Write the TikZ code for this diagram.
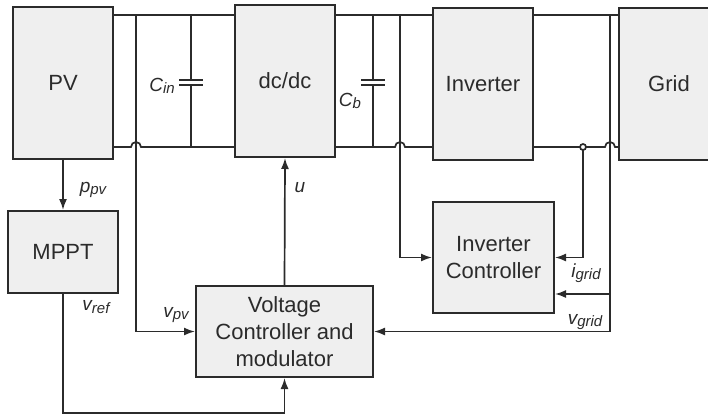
\documentclass[tikz,border=0pt]{standalone}
\usepackage{fontspec}
\setmainfont{Liberation Sans}
\usetikzlibrary{arrows.meta}

\definecolor{boxfill}{HTML}{EFEFEF}
\definecolor{ink}{HTML}{2B2B2B}
\newcommand{\sig}[2]{\textit{#1\raisebox{-0.25ex}{\fontsize{15}{15}\selectfont #2}}}

\begin{document}
\begin{tikzpicture}[x=1pt,y=-1pt,
  blk/.style={draw=ink,fill=boxfill,line width=2pt,inner sep=0pt,align=center,
    text=ink,font=\fontsize{22}{27}\selectfont},
  wire/.style={draw=ink,line width=1.7pt},
  sigarrow/.style={wire,-{Latex[length=11pt,width=8pt]}},
  lab/.style={text=ink,inner sep=0pt,font=\fontsize{19}{19}\selectfont}]

\useasboundingbox (0,0) rectangle (708,415);

% power stage
\node [blk,minimum width=100,minimum height=152] (pv)   at (63,83)  {PV};
\node [blk,minimum width=100,minimum height=152] (dcdc) at (285,81) {dc/dc};
\node [blk,minimum width=100,minimum height=152] (inv)  at (483,84) {Inverter};
\node [blk,minimum width=100,minimum height=152] (grid) at (669,84) {Grid};

% control blocks
\node [blk,minimum width=110,minimum height=82]  (mppt) at (63,252)    {MPPT};
\node [blk,minimum width=177,minimum height=91]  (vc)   at (284.5,331.5) {Voltage\\Controller and\\modulator};
\node [blk,minimum width=121,minimum height=111] (ic)   at (493.5,257.5) {Inverter\\Controller};

\coordinate (top) at (0,15);
\coordinate (bot) at (0,147);
\coordinate (vpvtap) at (136,15);
\coordinate (ictap)  at (400,15);
\coordinate (igtap)  at (583,147);
\coordinate (vgtap)  at (610,15);
\coordinate (vgbr)   at (610,294);

% dc and ac buses
\draw[wire] (pv.east |- top) -- (dcdc.west |- top);
\draw[wire] (dcdc.east |- top) -- (inv.west |- top);
\draw[wire] (inv.east |- top) -- (grid.west |- top);
\draw[wire] (pv.east |- bot) -- (131,147)
  arc[start angle=180,end angle=360,x radius=5,y radius=5] -- (dcdc.west |- bot);
\draw[wire] (dcdc.east |- bot) -- (395,147)
  arc[start angle=180,end angle=360,x radius=5,y radius=5] -- (inv.west |- bot);
\draw[wire] (inv.east |- bot) -- (605,147)
  arc[start angle=180,end angle=360,x radius=5,y radius=5] -- (grid.west |- bot);

% capacitors
\foreach \cx in {191,373}{
  \draw[wire] (\cx,15) -- (\cx,80);
  \draw[wire] (\cx,85) -- (\cx,147);
  \draw[wire] (\cx-12,80) -- (\cx+12,80);
  \draw[wire] (\cx-12,85) -- (\cx+12,85);
}
\node [lab] (cin) at (162,86)  {\sig{C}{in}};
\node [lab] (cb)  at (350,101) {\sig{C}{b}};

% measurements and control signals
\draw[sigarrow] (pv.south) -- (pv.south |- mppt.north);
\draw[sigarrow] (mppt.south) -- ++(0,119) -| (vc.south);
\draw[sigarrow] (vc.north) -- (dcdc.south);
\draw[sigarrow] (vpvtap) |- (vc.west);
\draw[sigarrow] (ictap) |- (ic.west);
\draw[sigarrow] (igtap) |- (ic.east);
\draw[sigarrow] (vgtap) |- (vc.east);
\draw[sigarrow] (vgbr) -- (ic.east |- vgbr);
\draw[wire,fill=white] (igtap) circle (3);

\node [lab] (ppv)   at (93,190)  {\sig{p}{pv}};
\node [lab] (u)     at (300,188) {\textit{u}};
\node [lab] (vref)  at (96,307)  {\sig{v}{ref}};
\node [lab] (vpv)   at (176,315) {\sig{v}{pv}};
\node [lab] (igrid) at (586,273) {\sig{i}{grid}};
\node [lab] (vgrid) at (585,322) {\sig{v}{grid}};

\end{tikzpicture}
\end{document}
